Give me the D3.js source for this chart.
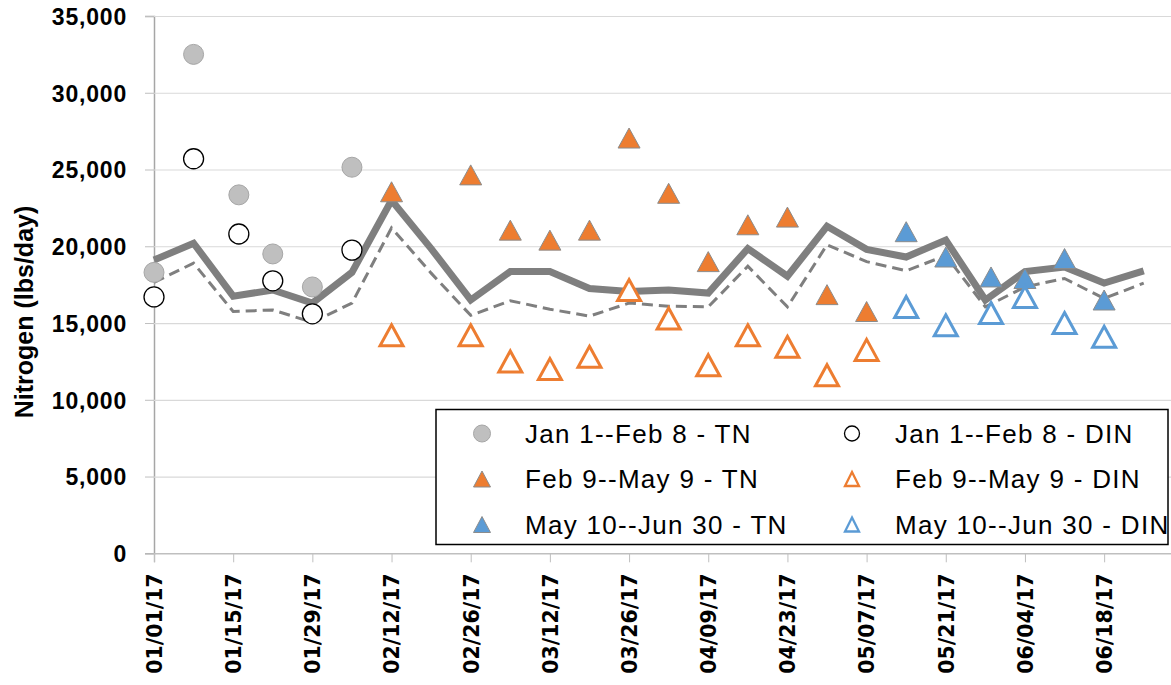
<!DOCTYPE html>
<meta charset="utf-8">
<style>
    body { margin: 0; background: #fff; }
    .y-tick text { font-family: "Liberation Sans", Arial, sans-serif; font-weight: bold; font-size: 23px; letter-spacing: 0.8px; }
    .x-tick text { font-family: "DejaVu Sans", sans-serif; font-weight: bold; font-size: 20.5px; }
    .legend text { font-family: "Liberation Sans", Arial, sans-serif; font-size: 26px; letter-spacing: 1.3px; }
</style>
<svg width="1171" height="685"></svg>
<script src="https://d3js.org/d3.v7.min.js"></script>
<script>

    // weekly composite lines
    var lineDates = ["2017-01-01", "2017-01-08", "2017-01-15", "2017-01-22", "2017-01-29", "2017-02-05",
        "2017-02-12", "2017-02-19", "2017-02-26", "2017-03-05", "2017-03-12", "2017-03-19", "2017-03-26",
        "2017-04-02", "2017-04-09", "2017-04-16", "2017-04-23", "2017-04-30", "2017-05-07", "2017-05-14",
        "2017-05-21", "2017-05-28", "2017-06-04", "2017-06-11", "2017-06-18", "2017-06-25"];
    var tnLine = [19100, 20200, 16750, 17150, 16300, 18300, 23000, 19850, 16500, 18350, 18350, 17250, 17050,
        17150, 16950, 19850, 18050, 21300, 19800, 19300, 20400, 16500, 18350, 18650, 17600, 18400];
    var dinLine = [17650, 18900, 15750, 15850, 15050, 16300, 21200, 18250, 15500, 16450, 15900, 15450, 16300,
        16100, 16050, 18700, 16050, 20100, 19000, 18400, 19400, 16050, 17350, 17900, 16600, 17600];

    // sampled loads by period
    var janDates = ["2017-01-01", "2017-01-08", "2017-01-16", "2017-01-22", "2017-01-29", "2017-02-05"];
    var janTN = [18300, 32500, 23350, 19500, 17350, 25150];
    var janDIN = [16700, 25700, 20800, 17750, 15600, 19750];

    var febDates = ["2017-02-12", "2017-02-26", "2017-03-05", "2017-03-12", "2017-03-19", "2017-03-26",
        "2017-04-02", "2017-04-09", "2017-04-16", "2017-04-23", "2017-04-30", "2017-05-07"];
    var febTN = [23550, 24650, 21050, 20400, 21050, 27050, 23450, 19000, 21400, 21900, 16850, 15750];
    var febDIN = [14200, 14200, 12500, 12000, 12800, 17150, 15300, 12250, 14200, 13450, 11600, 13250];

    var mayDates = ["2017-05-14", "2017-05-21", "2017-05-29", "2017-06-04", "2017-06-11", "2017-06-18"];
    var mayTN = [20950, 19300, 18000, 17900, 19200, 16500];
    var mayDIN = [16050, 14850, 15650, 16700, 15000, 14100];

    var xTickDates = ["2017-01-01", "2017-01-15", "2017-01-29", "2017-02-12", "2017-02-26", "2017-03-12",
        "2017-03-26", "2017-04-09", "2017-04-23", "2017-05-07", "2017-05-21", "2017-06-04", "2017-06-18"];
    var yTicks = [0, 5000, 10000, 15000, 20000, 25000, 30000, 35000];
    var legendLabels = ["Jan 1--Feb 8 - TN", "Jan 1--Feb 8 - DIN", "Feb 9--May 9 - TN",
        "Feb 9--May 9 - DIN", "May 10--Jun 30 - TN", "May 10--Jun 30 - DIN"];

    var orange = "#ED7D31", blue = "#5B9BD5", lineGray = "#7F7F7F";

    var svg = d3.select("svg");
    var parse = d3.utcParse("%Y-%m-%d");

    var x = d3.scaleUtc()
        .domain([parse("2017-01-01"), parse("2017-06-30")])
        .range([154, 1172]);
    var y = d3.scaleLinear()
        .domain([0, 35000])
        .range([553.3, 16]);

    // gridlines + y axis
    var yAxis = d3.axisLeft(y)
        .tickValues(yTicks)
        .tickSize(9)
        .tickPadding(18)
        .tickFormat(d3.format(","));
    var gy = svg.append("g").attr("transform", "translate(154,0)").call(yAxis);
    gy.select(".domain").attr("stroke", "#A6A6A6").attr("stroke-width", 1.5);
    gy.selectAll(".tick").attr("class", "tick y-tick");
    gy.selectAll(".tick line").attr("stroke", "#BFBFBF");
    gy.selectAll(".tick text").attr("fill", "#000").attr("dy", "0.36em");
    gy.selectAll(".tick").filter(function (d) { return d > 0; })
        .append("line")
        .attr("x1", 0).attr("x2", 1172 - 154)
        .attr("stroke", "#D9D9D9").attr("stroke-width", 1.2);

    // x axis
    var xAxis = d3.axisBottom(x)
        .tickValues(xTickDates.map(parse))
        .tickSize(9)
        .tickFormat(d3.utcFormat("%m/%d/%y"));
    var gx = svg.append("g").attr("transform", "translate(0,553.3)").call(xAxis);
    gx.select(".domain").attr("stroke", "#BFBFBF").attr("stroke-width", 1.5);
    gx.selectAll(".tick").attr("class", "tick x-tick");
    gx.selectAll(".tick line").attr("stroke", "#BFBFBF");
    gx.selectAll(".tick text")
        .attr("fill", "#000")
        .attr("text-anchor", "end")
        .attr("transform", "rotate(-90)")
        .attr("x", -20)
        .attr("y", 0)
        .attr("dy", "0.36em");

    // y title
    svg.append("text")
        .attr("transform", "translate(33,312) rotate(-90)")
        .attr("text-anchor", "middle")
        .style("font-family", "'Liberation Sans', Arial, sans-serif")
        .style("font-weight", "bold")
        .style("font-size", "25px")
        .text("Nitrogen (lbs/day)");

    // lines
    var lineGen = function (vals) {
        return d3.line()
            .x(function (d, i) { return x(parse(lineDates[i])); })
            .y(function (d) { return y(d); })(vals);
    };
    svg.append("path")
        .attr("d", lineGen(dinLine))
        .attr("fill", "none")
        .attr("stroke", lineGray)
        .attr("stroke-width", 3)
        .attr("stroke-dasharray", "11,6");
    svg.append("path")
        .attr("d", lineGen(tnLine))
        .attr("fill", "none")
        .attr("stroke", lineGray)
        .attr("stroke-width", 7);

    function tri(w, h) {
        return "M0," + (-h / 2) + "L" + (w / 2) + "," + (h / 2) + "L" + (-w / 2) + "," + (h / 2) + "Z";
    }

    function addShape(sel, shape, color, small) {
        if (shape === "dot") {
            sel.append("circle").attr("r", small ? 8.5 : 10)
                .attr("fill", "#BFBFBF").attr("stroke", "#A6A6A6").attr("stroke-width", 1);
        } else if (shape === "ring") {
            sel.append("circle").attr("r", small ? 7.5 : 10)
                .attr("fill", "#fff").attr("stroke", "#000").attr("stroke-width", 1.3);
        } else if (shape === "tri") {
            sel.append("path").attr("d", small ? tri(17, 16) : tri(22, 20))
                .attr("fill", color).attr("stroke", "#8C8C8C").attr("stroke-width", 1);
        } else {
            sel.append("path").attr("d", small ? tri(14, 14) : tri(23, 21))
                .attr("fill", "#fff").attr("stroke", color).attr("stroke-width", small ? 2.3 : 3);
        }
    }

    function markers(dates, vals, shape, color) {
        var pts = svg.append("g").selectAll("g").data(vals).enter().append("g")
            .attr("transform", function (d, i) {
                return "translate(" + x(parse(dates[i])) + "," + y(d) + ")";
            });
        addShape(pts, shape, color, false);
    }

    markers(janDates, janTN, "dot");
    markers(janDates, janDIN, "ring");
    markers(febDates, febTN, "tri", orange);
    markers(febDates, febDIN, "openTri", orange);
    markers(mayDates, mayTN, "tri", blue);
    markers(mayDates, mayDIN, "openTri", blue);

    // legend
    var legendShapes = [["dot"], ["ring"], ["tri", orange], ["openTri", orange], ["tri", blue], ["openTri", blue]];
    var lg = svg.append("g").attr("class", "legend");
    lg.append("rect")
        .attr("x", 436).attr("y", 409.5)
        .attr("width", 732).attr("height", 135)
        .attr("fill", "#fff").attr("stroke", "#000").attr("stroke-width", 1.5);
    var items = lg.selectAll("g.item").data(legendLabels).enter().append("g")
        .attr("class", "item")
        .attr("transform", function (d, i) {
            var col = i % 2, row = Math.floor(i / 2);
            return "translate(" + (col ? 852 : 482) + "," + (433.5 + row * 45.5) + ")";
        });
    items.each(function (d, i) {
        addShape(d3.select(this), legendShapes[i][0], legendShapes[i][1], true);
    });
    items.append("text")
        .attr("x", 43)
        .attr("dy", "0.36em")
        .text(function (d) { return d; });

</script>
